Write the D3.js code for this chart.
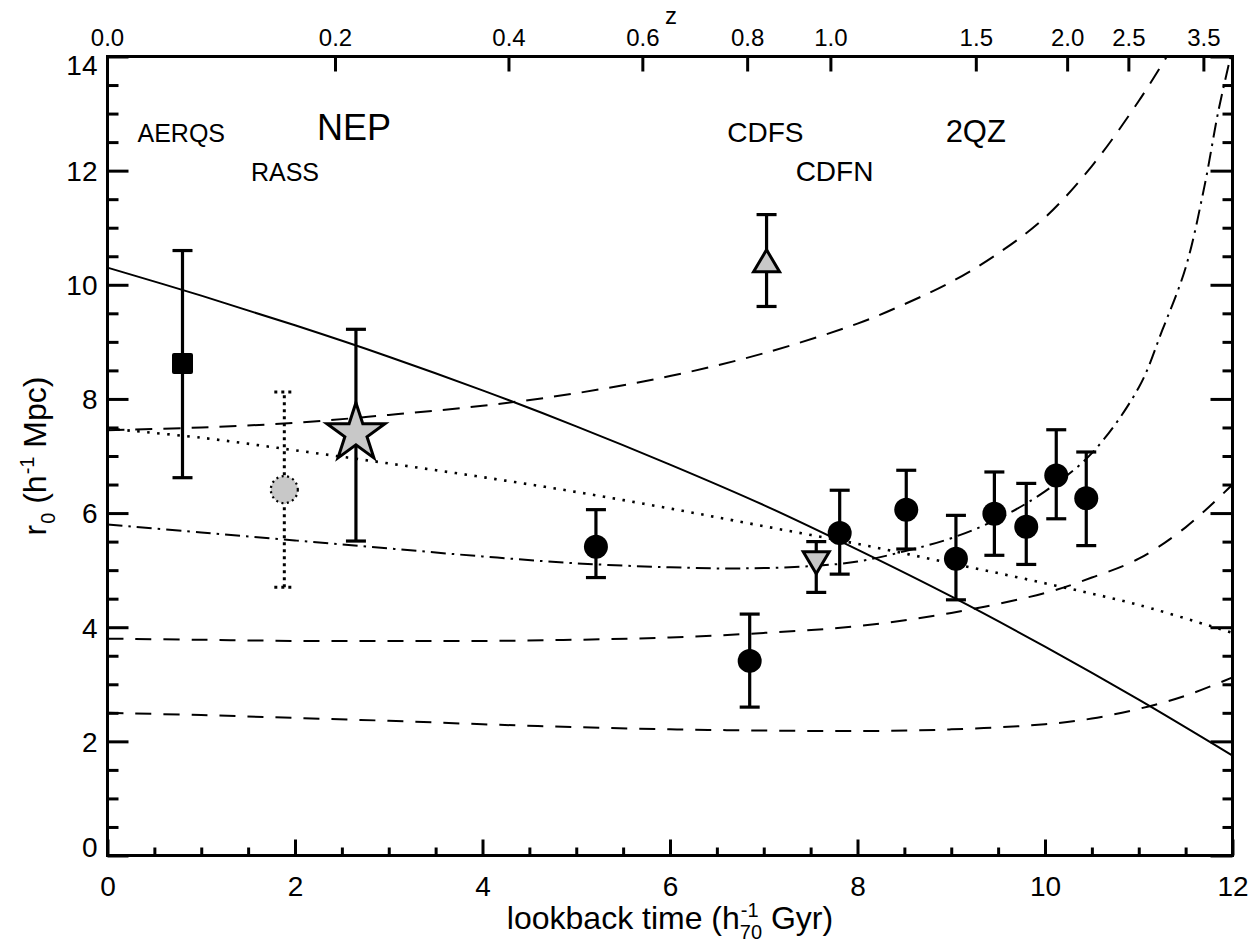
<!DOCTYPE html>
<html><head><meta charset="utf-8">
<script src="https://cdn.jsdelivr.net/npm/d3@7"></script>
<style>
body{margin:0;background:#fff}
svg{display:block}
text{font-family:"Liberation Sans",Arial,Helvetica,sans-serif;fill:#000}
</style>
</head><body>
<svg id="c" width="1252" height="945"></svg>
<script>
// ---------------- DATA ----------------
// model curves: lookback time (h70^-1 Gyr) and r0 (h^-1 Mpc)
const solidT = [0,1,2,3,4,5,6,7,8,9,10,11,12];
const solidR = [10.30,9.81,9.29,8.74,8.15,7.52,6.85,6.14,5.36,4.54,3.66,2.73,1.75];
const dottedT = [0,1,2,3,4,5,6,7,8,9,10,11,12];
const dottedR = [7.48,7.32,7.10,6.87,6.63,6.37,6.08,5.77,5.46,5.12,4.77,4.39,3.90];
const dashDotT = [0,1,2,3,4,5,6,6.75,7.5,8,8.5,9,9.5,10,10.5,11,11.25,11.5,11.7,11.85,11.98];
const dashDotR = [5.80,5.66,5.52,5.38,5.24,5.12,5.05,5.03,5.07,5.15,5.33,5.56,5.90,6.38,7.05,8.20,9.20,10.30,11.72,13.05,14.0];
const upperDashT = [0,1,2,3,4,5,6,7,8,8.5,9,9.5,10,10.5,11,11.3];
const upperDashR = [7.45,7.50,7.58,7.72,7.88,8.10,8.40,8.80,9.32,9.66,10.05,10.55,11.18,12.08,13.22,14.0];
const middleDashT = [0,1,2,3,4,5,6,7,8,9,10,10.5,11,11.5,12];
const middleDashR = [3.80,3.78,3.76,3.76,3.76,3.78,3.82,3.90,4.02,4.25,4.60,4.87,5.20,5.75,6.50];
const lowerDashT = [0,1,2,3,4,5,6,7,8,9,10,10.5,11,11.5,12];
const lowerDashR = [2.50,2.46,2.41,2.36,2.30,2.25,2.21,2.19,2.18,2.21,2.30,2.40,2.57,2.80,3.12];

// measurements
const blackT  = [5.21,6.85,7.81,8.52,9.05,9.46,9.80,10.12,10.44];
const blackR  = [5.41,3.41,5.65,6.06,5.20,5.99,5.76,6.66,6.26];
const blackLo = [4.87,2.60,4.93,5.37,4.48,5.26,5.10,5.90,5.43];
const blackHi = [6.06,4.23,6.40,6.75,5.96,6.72,6.52,7.46,7.07];

const aerqs = {t:0.80, r:8.62, lo:6.62, hi:10.60};
const rass  = {t:1.886, r:6.41, lo:4.70, hi:8.12};
const nep   = {t:2.65, r:7.40, lo:5.51, hi:9.22};
const cdfs  = {t:7.03, r:10.42, lo:9.62, hi:11.23};
const cdfn  = {t:7.56, r:5.13, lo:4.61, hi:5.50};

// labels
const annoText = ["AERQS","RASS","NEP","CDFS","CDFN","2QZ"];
const annoT    = [0.32,1.53,2.235,6.61,7.34,8.94];
const annoR    = [12.51,11.81,12.54,12.51,11.81,12.51];
const annoSize = [25,25,36,28,28,31];

const xTicks = [0,2,4,6,8,10,12];
const yTicks = [0,2,4,6,8,10,12,14];
const zTickValues = [0.0,0.2,0.4,0.6,0.8,1.0,1.5,2.0,2.5,3.5];
const zTickLabels = ["0.0","0.2","0.4","0.6","0.8","1.0","1.5","2.0","2.5","3.5"];

// cosmology for redshift axis (flat, Om=0.3, OL=0.7, 1/H0 = 13.97 h70^-1 Gyr)
const Om = 0.3, OL = 0.7, tH = 13.97;
const kk = Math.sqrt(OL/Om), Afac = 2/(3*Math.sqrt(OL))*tH;
function lookback(z){ return Afac*(Math.asinh(kk) - Math.asinh(kk*Math.pow(1+z,-1.5))); }

// ---------------- CHART ----------------
const svg = d3.select('#c');
const x = d3.scaleLinear().domain([0,12]).range([107.5,1232.5]);
const y = d3.scaleLinear().domain([0,14]).range([855.5,56.5]);

svg.append('defs').append('clipPath').attr('id','plot')
  .append('rect').attr('x',x(0)).attr('y',y(14))
  .attr('width',x(12)-x(0)).attr('height',y(0)-y(14));

// curves
const line = d3.line().x(d=>x(d[0])).y(d=>y(d[1])).curve(d3.curveCatmullRom.alpha(0.5));
const curves = [
  {t:solidT, r:solidR, dash:null, w:2},
  {t:dottedT, r:dottedR, dash:"2.5,7.5", w:2.6},
  {t:dashDotT, r:dashDotR, dash:"15,6,2.5,6", w:2},
  {t:upperDashT, r:upperDashR, dash:"17,11", w:2},
  {t:middleDashT, r:middleDashR, dash:"16,12", w:2},
  {t:lowerDashT, r:lowerDashR, dash:"16,12", w:2}
];
const cg = svg.append('g').attr('clip-path','url(#plot)');
cg.selectAll('path.curve').data(curves).join('path')
  .attr('class','curve')
  .attr('d', c => line(c.t.map((t,i)=>[t,c.r[i]])))
  .attr('fill','none').attr('stroke','#000')
  .attr('stroke-width', c=>c.w)
  .attr('stroke-dasharray', c=>c.dash);

// error bars helper
function errBar(g, p, dotted){
  const gg = g.append('g').attr('stroke','#000')
    .attr('stroke-width', dotted?3:3.2)
    .attr('stroke-dasharray', dotted?"3,4":null);
  gg.append('line').attr('x1',x(p.t)).attr('x2',x(p.t)).attr('y1',y(p.lo)).attr('y2',y(p.hi));
  [p.lo,p.hi].forEach(v=>{
    gg.append('line').attr('x1',x(p.t)-10).attr('x2',x(p.t)+10).attr('y1',y(v)).attr('y2',y(v));
  });
}
const pg = svg.append('g');
const blackPts = blackT.map((t,i)=>({t, r:blackR[i], lo:blackLo[i], hi:blackHi[i]}));
blackPts.forEach(p=>errBar(pg,p,false));
errBar(pg,aerqs,false);
errBar(pg,rass,true);
errBar(pg,nep,false);
errBar(pg,cdfs,false);
errBar(pg,cdfn,false);

// markers
pg.selectAll('circle.black').data(blackPts).join('circle')
  .attr('class','black').attr('cx',d=>x(d.t)).attr('cy',d=>y(d.r)).attr('r',12).attr('fill','#000');
pg.append('rect').attr('x',x(aerqs.t)-10.5).attr('y',y(aerqs.r)-10.5)
  .attr('width',21).attr('height',21).attr('rx',2).attr('fill','#000');
pg.append('circle').attr('cx',x(rass.t)).attr('cy',y(rass.r)).attr('r',13.5)
  .attr('fill','#c8c8c8').attr('stroke','#000').attr('stroke-width',2.2).attr('stroke-dasharray','2,3.5');
pg.append('path').attr('d', d3.symbol(d3.symbolStar, 30.5*30.5/0.8908130915292852)())
  .attr('transform',`translate(${x(nep.t)},${y(nep.r)})`)
  .attr('fill','#c8c8c8').attr('stroke','#000').attr('stroke-width',3).attr('stroke-linejoin','miter');
pg.append('path').attr('d','M0,-11L13,11L-13,11Z')
  .attr('transform',`translate(${x(cdfs.t)},${y(cdfs.r)})`)
  .attr('fill','#c8c8c8').attr('stroke','#000').attr('stroke-width',3);
pg.append('path').attr('d','M0,11L13,-11L-13,-11Z')
  .attr('transform',`translate(${x(cdfn.t)},${y(cdfn.r)})`)
  .attr('fill','#c8c8c8').attr('stroke','#000').attr('stroke-width',3);

// annotations
svg.append('g').selectAll('text').data(annoText).join('text')
  .attr('x',(d,i)=>x(annoT[i])).attr('y',(d,i)=>y(annoR[i]))
  .attr('font-size',(d,i)=>annoSize[i]).text(d=>d);

// axes
const minorX = d3.range(0,12.01,0.5).filter(v=>xTicks.indexOf(v)<0);
const minorY = d3.range(0,14.01,0.5).filter(v=>yTicks.indexOf(v)<0);
function styleAxis(g){
  g.select('.domain').remove();
  g.selectAll('line').attr('stroke-width',3);
  g.selectAll('text').attr('font-family','"Liberation Sans",Arial,Helvetica,sans-serif');
}
// left
const gl = svg.append('g').attr('transform',`translate(${x(0)},0)`)
  .call(d3.axisLeft(y).tickValues(yTicks).tickSize(-21).tickPadding(10).tickFormat(d3.format('d')));
gl.call(styleAxis);
gl.selectAll('text').attr('font-size',28)
  .attr('dy', d => d===14 ? '0.65em' : (d===0 ? '0.03em' : '0.35em'));
svg.append('g').attr('transform',`translate(${x(0)},0)`)
  .call(d3.axisLeft(y).tickValues(minorY).tickSize(-11).tickFormat('')).call(styleAxis);
// right
svg.append('g').attr('transform',`translate(${x(12)},0)`)
  .call(d3.axisRight(y).tickValues(yTicks).tickSize(-22).tickFormat('')).call(styleAxis);
svg.append('g').attr('transform',`translate(${x(12)},0)`)
  .call(d3.axisRight(y).tickValues(minorY).tickSize(-10).tickFormat('')).call(styleAxis);
// bottom
const gb = svg.append('g').attr('transform',`translate(0,${y(0)})`)
  .call(d3.axisBottom(x).tickValues(xTicks).tickSize(-16).tickPadding(21).tickFormat(d3.format('d')));
gb.call(styleAxis);
gb.selectAll('text').attr('font-size',28);
svg.append('g').attr('transform',`translate(0,${y(0)})`)
  .call(d3.axisBottom(x).tickValues(minorX).tickSize(-8).tickFormat('')).call(styleAxis);
// top (redshift)
const gt = svg.append('g');
gt.selectAll('line').data(zTickValues).join('line')
  .attr('x1',d=>x(lookback(d))).attr('x2',d=>x(lookback(d)))
  .attr('y1',y(14)).attr('y2',y(14)+15).attr('stroke','#000').attr('stroke-width',3);
gt.selectAll('text').data(zTickValues).join('text')
  .attr('x',d=>x(lookback(d))).attr('y',y(14)-11)
  .attr('text-anchor','middle').attr('font-size',24)
  .text((d,i)=>zTickLabels[i]);
svg.append('text').attr('x',671).attr('y',24).attr('text-anchor','middle')
  .attr('font-size',24).text('z');

// frame
svg.append('rect').attr('x',x(0)).attr('y',y(14))
  .attr('width',x(12)-x(0)).attr('height',y(0)-y(14))
  .attr('fill','none').attr('stroke','#000').attr('stroke-width',3);

// x title
const fs = 32, NB = '\u00a0';
const xt = svg.append('g');
const t1 = xt.append('text').attr('font-size',fs).attr('x',0).attr('y',0).text('lookback time (h');
const w1 = t1.node().getComputedTextLength();
const s1 = xt.append('text').attr('font-size',20).attr('x',w1+1).attr('y',-12).text('-1');
const s2 = xt.append('text').attr('font-size',20).attr('x',w1).attr('y',10).text('70');
const ws = Math.max(s1.node().getComputedTextLength()+1, s2.node().getComputedTextLength());
const t2 = xt.append('text').attr('font-size',fs).attr('x',w1+ws).attr('y',0).text(NB+'Gyr)');
const wt = w1+ws+t2.node().getComputedTextLength();
xt.attr('transform',`translate(${670-wt/2},929)`);

// y title
const yt = svg.append('g');
const a1 = yt.append('text').attr('font-size',fs).attr('x',0).attr('y',0).text('r');
const wa1 = a1.node().getComputedTextLength();
const a2 = yt.append('text').attr('font-size',20).attr('x',wa1+1).attr('y',9).text('0');
const wa2 = a2.node().getComputedTextLength()+1;
const a3 = yt.append('text').attr('font-size',fs).attr('x',wa1+wa2).attr('y',0).text(NB+'(h');
const wa3 = a3.node().getComputedTextLength();
const a4 = yt.append('text').attr('font-size',20).attr('x',wa1+wa2+wa3+1).attr('y',-12).text('-1');
const wa4 = a4.node().getComputedTextLength()+1;
const a5 = yt.append('text').attr('font-size',fs).attr('x',wa1+wa2+wa3+wa4).attr('y',0).text(NB+'Mpc)');
const wy = wa1+wa2+wa3+wa4+a5.node().getComputedTextLength();
yt.attr('transform',`translate(46,${456+wy/2}) rotate(-90)`);
</script>
</body></html>
